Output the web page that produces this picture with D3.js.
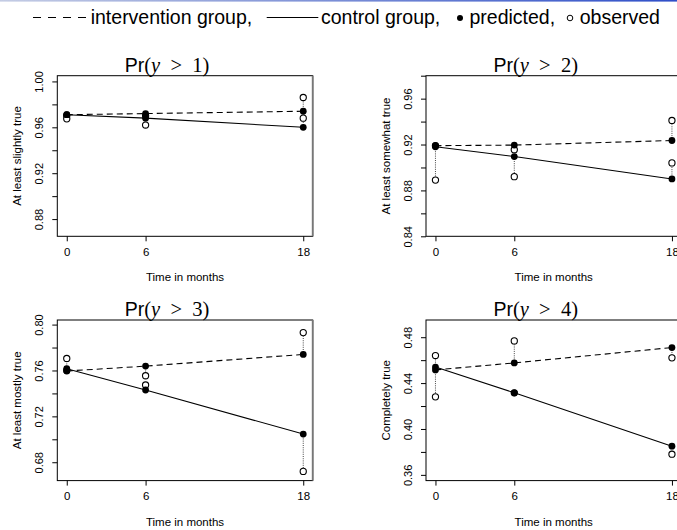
<!DOCTYPE html>
<html><head><meta charset="utf-8">
<script src="https://cdnjs.cloudflare.com/ajax/libs/d3/7.8.5/d3.min.js"></script>
<style>body{margin:0;background:#fff}svg{display:block}</style>
</head><body>
<svg id="c" width="677" height="530"></svg>
<script>
// ---- data ----
const months = [0, 6, 18];
const xTicks = [0, 6, 18];
const thresholds = [1, 2, 3, 4];
const yLabels = ["At least slightly true", "At least somewhat true", "At least mostly true", "Completely true"];
const yDomains = [[0.865, 1.005], [0.84, 0.98], [0.664, 0.804], [0.355, 0.495]];
const yTicks1 = [0.88, 0.90, 0.92, 0.94, 0.96, 0.98, 1.00];
const yTicks2 = [0.84, 0.86, 0.88, 0.90, 0.92, 0.94, 0.96, 0.98];
const yTicks3 = [0.68, 0.70, 0.72, 0.74, 0.76, 0.78, 0.80];
const yTicks4 = [0.36, 0.38, 0.40, 0.42, 0.44, 0.46, 0.48];
const yLabelTicks1 = [0.88, 0.92, 0.96, 1.00];
const yLabelTicks2 = [0.84, 0.88, 0.92, 0.96];
const yLabelTicks3 = [0.68, 0.72, 0.76, 0.80];
const yLabelTicks4 = [0.36, 0.40, 0.44, 0.48];
// predicted / observed, intervention & control
const predInt1 = [0.971, 0.972, 0.974];
const predCtl1 = [0.971, 0.968, 0.960];
const obsInt1  = [0.970, 0.970, 0.986];
const obsCtl1  = [0.9674, 0.962, 0.968];
const predInt2 = [0.919, 0.9195, 0.9235];
const predCtl2 = [0.918, 0.9095, 0.890];
const obsInt2  = [0.919, 0.9155, 0.941];
const obsCtl2  = [0.889, 0.892, 0.904];
const predInt3 = [0.7595, 0.7638, 0.774];
const predCtl3 = [0.7615, 0.743, 0.7046];
const obsInt3  = [0.7705, 0.7554, 0.793];
const obsCtl3  = [0.760, 0.7474, 0.672];
const predInt4 = [0.4515, 0.4576, 0.471];
const predCtl4 = [0.454, 0.4315, 0.385];
const obsInt4  = [0.428, 0.4768, 0.462];
const obsCtl4  = [0.464, 0.4315, 0.378];

const panels = [
  {pi: predInt1, pc: predCtl1, oi: obsInt1, oc: obsCtl1, ticks: yTicks1, lab: yLabelTicks1},
  {pi: predInt2, pc: predCtl2, oi: obsInt2, oc: obsCtl2, ticks: yTicks2, lab: yLabelTicks2},
  {pi: predInt3, pc: predCtl3, oi: obsInt3, oc: obsCtl3, ticks: yTicks3, lab: yLabelTicks3},
  {pi: predInt4, pc: predCtl4, oi: obsInt4, oc: obsCtl4, ticks: yTicks4, lab: yLabelTicks4}
];

const svg = d3.select("#c");
const SANS = "'Liberation Sans', Arial, Helvetica, sans-serif";
const SERIF = "'Liberation Serif', 'DejaVu Serif', serif";

// top blue rule
const defs = svg.append("defs");
const grad = defs.append("linearGradient").attr("id", "topg").attr("x1", "0").attr("x2", "1");
grad.append("stop").attr("offset", "0").attr("stop-color", "#c4cce4");
grad.append("stop").attr("offset", "1").attr("stop-color", "#2f4fc8");
svg.append("rect").attr("x", 0).attr("y", 0).attr("width", 677).attr("height", 1.6).attr("fill", "url(#topg)");

// legend
const lg = svg.append("g");
lg.append("line").attr("x1", 33).attr("x2", 86).attr("y1", 17.5).attr("y2", 17.5)
  .attr("stroke", "#000").attr("stroke-width", 1.2).attr("stroke-dasharray", "8,7");
lg.append("text").attr("x", 90.7).attr("y", 24).attr("font-family", SANS).attr("font-size", 19.5).text("intervention group,");
lg.append("line").attr("x1", 266.7).attr("x2", 318.3).attr("y1", 17.5).attr("y2", 17.5)
  .attr("stroke", "#000").attr("stroke-width", 1.2);
lg.append("text").attr("x", 321).attr("y", 24).attr("font-family", SANS).attr("font-size", 19.5).text("control group,");
lg.append("circle").attr("cx", 460).attr("cy", 18).attr("r", 3).attr("fill", "#000");
lg.append("text").attr("x", 469.5).attr("y", 24).attr("font-family", SANS).attr("font-size", 19.5).text("predicted,");
lg.append("circle").attr("cx", 570).attr("cy", 18).attr("r", 2.8).attr("fill", "none").attr("stroke", "#000").attr("stroke-width", 1);
lg.append("text").attr("x", 579.7).attr("y", 24).attr("font-family", SANS).attr("font-size", 19.5).text("observed");

const W = 255.4, H = 160.6;
const lefts = [57.3, 426];
const tops = [75.7, 320];

panels.forEach((p, k) => {
  const L = lefts[k % 2], T = tops[Math.floor(k / 2)];
  const x = d3.scaleLinear().domain([-0.72, 18.72]).range([L, L + W]);
  const y = d3.scaleLinear().domain(yDomains[k]).range([T + H, T]);
  const g = svg.append("g");

  // y axis ticks
  const ya = d3.axisLeft(y).tickValues(p.ticks).tickSize(5)
    .tickFormat(d => p.lab.some(v => Math.abs(v - d) < 1e-9) ? d.toFixed(2) : "");
  const yg = g.append("g").attr("transform", `translate(${L},0)`).call(ya);
  yg.select(".domain").remove();
  yg.selectAll(".tick line").attr("stroke", "#000");
  yg.selectAll(".tick text").attr("font-family", SANS).attr("font-size", 11).attr("fill", "#000")
    .each(function() {
      d3.select(this).attr("x", null).attr("dy", null).attr("y", 0).attr("text-anchor", "middle")
        .attr("transform", `translate(-14,0) rotate(-90)`);
    });

  // x axis
  const xa = d3.axisBottom(x).tickValues(xTicks).tickSize(5).tickFormat(d3.format("d"));
  const xg = g.append("g").attr("transform", `translate(0,${T + H})`).call(xa);
  xg.select(".domain").remove();
  xg.selectAll(".tick line").attr("stroke", "#000");
  xg.selectAll(".tick text").attr("font-family", SANS).attr("font-size", 11.5).attr("fill", "#000")
    .attr("y", 16).attr("dy", "0.32em");

  // box
  g.append("rect").attr("x", L).attr("y", T).attr("width", W).attr("height", H)
    .attr("fill", "none").attr("stroke", "#000").attr("stroke-width", 1);
  g.append("line").attr("x1", L + W).attr("x2", L + W).attr("y1", T).attr("y2", T + H)
    .attr("stroke", "#777").attr("stroke-width", 1.8);

  // axis titles
  g.append("text").attr("x", L + W / 2).attr("y", T + H + 45).attr("text-anchor", "middle")
    .attr("font-family", SANS).attr("font-size", 11.5).text("Time in months");
  g.append("text").attr("transform", `translate(${L - 36.5},${T + H / 2}) rotate(-90)`)
    .attr("text-anchor", "middle").attr("font-family", SANS).attr("font-size", 11.5).text(yLabels[k]);

  // title
  const tt = g.append("text").attr("x", L + W / 2 - 18).attr("y", T - 4).attr("text-anchor", "middle")
    .attr("font-size", 20.5);
  tt.append("tspan").attr("font-family", SANS).attr("font-size", 19.5).text("Pr");
  tt.append("tspan").attr("font-family", SERIF).text("(");
  tt.append("tspan").attr("font-family", SERIF).attr("font-style", "italic").text("y");
  tt.append("tspan").attr("font-family", SERIF).text("\u2002>\u2002" + thresholds[k] + ")");

  // lines
  const line = d3.line().x((d, i) => x(months[i])).y(d => y(d));
  g.append("path").attr("d", line(p.pi)).attr("fill", "none").attr("stroke", "#000")
    .attr("stroke-width", 1.1).attr("stroke-dasharray", "6,4");
  g.append("path").attr("d", line(p.pc)).attr("fill", "none").attr("stroke", "#000")
    .attr("stroke-width", 1.1);

  // dotted connectors
  [[p.pi, p.oi], [p.pc, p.oc]].forEach(([pr, ob]) => {
    months.forEach((m, i) => {
      g.append("line").attr("x1", x(m)).attr("x2", x(m)).attr("y1", y(pr[i])).attr("y2", y(ob[i]))
        .attr("stroke", "#444").attr("stroke-width", 1).attr("stroke-dasharray", "1,1.2");
    });
  });

  // observed (open)
  [p.oi, p.oc].forEach(ob => {
    g.selectAll(null).data(ob).enter().append("circle")
      .attr("cx", (d, i) => x(months[i])).attr("cy", d => y(d)).attr("r", 3.1)
      .attr("fill", "#fff").attr("stroke", "#000").attr("stroke-width", 1.1);
  });
  // predicted (filled)
  [p.pi, p.pc].forEach(pr => {
    g.selectAll(null).data(pr).enter().append("circle")
      .attr("cx", (d, i) => x(months[i])).attr("cy", d => y(d)).attr("r", 3.4)
      .attr("fill", "#000");
  });
});
</script>
</body></html>
